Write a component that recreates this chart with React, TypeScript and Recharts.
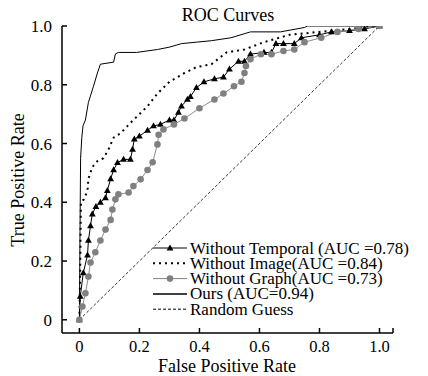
import React from 'react';
import { LineChart, Line, XAxis, YAxis, Legend } from 'recharts';

// ROC points (false positive rate / true positive rate)
const temporalFpr = [0, 0.003, 0.013, 0.027, 0.03, 0.037, 0.043, 0.055, 0.07, 0.087, 0.093, 0.104, 0.114, 0.127, 0.147, 0.17, 0.177, 0.183, 0.2, 0.227, 0.247, 0.27, 0.3, 0.315, 0.33, 0.34, 0.36, 0.37, 0.39, 0.415, 0.45, 0.48, 0.5, 0.53, 0.55, 0.57, 0.615, 0.64, 0.655, 0.68, 0.716, 0.74, 0.8, 0.84, 0.9, 0.95, 1];
const temporalTpr = [0, 0.08, 0.16, 0.22, 0.27, 0.32, 0.36, 0.385, 0.4, 0.415, 0.44, 0.48, 0.51, 0.535, 0.546, 0.546, 0.58, 0.615, 0.625, 0.645, 0.66, 0.665, 0.68, 0.68, 0.706, 0.727, 0.75, 0.76, 0.79, 0.81, 0.82, 0.826, 0.853, 0.88, 0.88, 0.904, 0.91, 0.91, 0.94, 0.94, 0.94, 0.96, 0.97, 0.98, 0.984, 0.99, 1];

const imageFpr = [0, 0.003, 0.005, 0.015, 0.027, 0.03, 0.043, 0.06, 0.08, 0.097, 0.114, 0.137, 0.17, 0.227, 0.26, 0.3, 0.35, 0.39, 0.44, 0.49, 0.55, 0.615, 0.7, 0.8, 0.9, 1];
const imageTpr = [0, 0.2, 0.4, 0.41, 0.44, 0.48, 0.52, 0.54, 0.55, 0.58, 0.62, 0.635, 0.67, 0.727, 0.77, 0.81, 0.84, 0.86, 0.87, 0.91, 0.92, 0.945, 0.97, 0.98, 0.99, 1];

const graphFpr = [0, 0.01, 0.02, 0.03, 0.037, 0.053, 0.07, 0.087, 0.104, 0.11, 0.12, 0.13, 0.164, 0.18, 0.204, 0.227, 0.244, 0.26, 0.264, 0.28, 0.315, 0.35, 0.4, 0.45, 0.48, 0.515, 0.54, 0.55, 0.555, 0.57, 0.605, 0.64, 0.68, 0.716, 0.75, 0.806, 0.86, 0.93, 1];
const graphTpr = [0, 0.045, 0.09, 0.147, 0.195, 0.23, 0.27, 0.307, 0.34, 0.375, 0.41, 0.427, 0.433, 0.455, 0.478, 0.51, 0.536, 0.597, 0.63, 0.648, 0.665, 0.685, 0.72, 0.75, 0.77, 0.795, 0.81, 0.84, 0.864, 0.887, 0.904, 0.904, 0.915, 0.92, 0.945, 0.96, 0.98, 0.99, 1];

const oursFpr = [0, 0.002, 0.004, 0.008, 0.012, 0.02, 0.03, 0.047, 0.06, 0.07, 0.114, 0.12, 0.13, 0.19, 0.26, 0.3, 0.34, 0.39, 0.44, 0.505, 0.57, 0.67, 0.75, 0.76, 1];
const oursTpr = [0, 0.3, 0.55, 0.62, 0.66, 0.68, 0.74, 0.795, 0.84, 0.87, 0.877, 0.905, 0.91, 0.91, 0.92, 0.928, 0.94, 0.945, 0.95, 0.96, 0.98, 0.98, 0.995, 1, 1];

const randomFpr = [0, 1];
const randomTpr = [0, 1];

const legendLabels = [
  'Without Temporal (AUC =0.78)',
  'Without Image(AUC =0.84)',
  'Without Graph(AUC =0.73)',
  'Ours (AUC=0.94)',
  'Random Guess',
];

const xTicks = [0, 0.2, 0.4, 0.6, 0.8, 1.0, 1.045];
const yTicks = [0, 0.2, 0.4, 0.6, 0.8, 1.0];

const toPoints = (xs: number[], ys: number[]) => xs.map((x, i) => ({ x, y: ys[i] }));

const FONT = '"Liberation Serif", "Times New Roman", serif';
const GRAY = '#808080';

const Triangle = (props: any) => {
  const { cx, cy } = props;
  if (cx == null || cy == null) return <g />;
  return <path d={`M${cx},${cy - 3.6} L${cx + 3.4},${cy + 2.4} L${cx - 3.4},${cy + 2.4} Z`} fill="#000" />;
};

const Circle = (props: any) => {
  const { cx, cy } = props;
  if (cx == null || cy == null) return <g />;
  return <circle cx={cx} cy={cy} r={3.3} fill={GRAY} />;
};

const XTick = (props: any) => {
  const { x, y, payload } = props;
  const v = payload.value as number;
  return (
    <g>
      <line x1={x} y1={y} x2={x} y2={y - 5} stroke="#000" strokeWidth={1.5} />
      {v <= 1.001 && (
        <text x={x} y={y + 18.5} textAnchor="middle" fontFamily={FONT} fontSize={16.5} fill="#000">
          {v === 0 ? '0' : v.toFixed(1)}
        </text>
      )}
    </g>
  );
};

const YTick = (props: any) => {
  const { x, y, payload } = props;
  const v = payload.value as number;
  return (
    <g>
      <line x1={x} y1={y} x2={x + 5} y2={y} stroke="#000" strokeWidth={1.5} />
      <text x={x - 10} y={y + 6} textAnchor="end" fontFamily={FONT} fontSize={17} fill="#000">
        {v === 0 ? '0' : v.toFixed(1)}
      </text>
    </g>
  );
};

const LegendBox = () => {
  const rowY = (i: number) => 8 + i * 15.3;
  return (
    <svg width={275} height={85}>
      {/* Without Temporal */}
      <line x1={3} y1={rowY(0)} x2={37} y2={rowY(0)} stroke="#000" strokeWidth={1} />
      <Triangle cx={20} cy={rowY(0)} />
      {/* Without Image */}
      <line x1={3} y1={rowY(1)} x2={37} y2={rowY(1)} stroke="#000" strokeWidth={2} strokeDasharray="2 4" />
      {/* Without Graph */}
      <line x1={3} y1={rowY(2)} x2={37} y2={rowY(2)} stroke={GRAY} strokeWidth={1} />
      <Circle cx={20} cy={rowY(2)} />
      {/* Ours */}
      <line x1={3} y1={rowY(3)} x2={37} y2={rowY(3)} stroke="#000" strokeWidth={1.5} />
      {/* Random */}
      <line x1={3} y1={rowY(4)} x2={37} y2={rowY(4)} stroke="#000" strokeWidth={1} strokeDasharray="3 2" />
      {legendLabels.map((t, i) => (
        <text key={t} x={40} y={rowY(i) + 5.5} fontFamily={FONT} fontSize={17} fill="#000">
          {t}
        </text>
      ))}
    </svg>
  );
};

export default function App() {
  return (
    <div style={{ position: 'absolute', left: 0, top: 0, background: '#fff' }}>
      <LineChart width={428} height={376} margin={{ top: 26, right: 35, bottom: 0, left: 0 }}>
        <XAxis
          type="number"
          dataKey="x"
          domain={[-0.058, 1.045]}
          allowDataOverflow
          ticks={xTicks}
          interval={0}
          height={43}
          tickSize={0}
          tickMargin={0}
          tick={<XTick />}
          axisLine={{ stroke: '#000', strokeWidth: 1.5 }}
          label={{
            content: () => (
              <text x={227} y={371.5} textAnchor="middle" fontFamily={FONT} fontSize={18} fill="#000">
                False Positive Rate
              </text>
            ),
          }}
        />
        <YAxis
          type="number"
          dataKey="y"
          domain={[-0.045, 1.0]}
          allowDataOverflow
          ticks={yTicks}
          interval={0}
          width={62}
          tickSize={0}
          tickMargin={0}
          tick={<YTick />}
          axisLine={{ stroke: '#000', strokeWidth: 1.5 }}
          label={{
            content: () => (
              <text
                x={24}
                y={180}
                transform="rotate(-90 24 180)"
                textAnchor="middle"
                fontFamily={FONT}
                fontSize={18}
                fill="#000"
              >
                True Positive Rate
              </text>
            ),
          }}
        />
        <Line
          data={toPoints(temporalFpr, temporalTpr)}
          dataKey="y"
          stroke="#000"
          strokeWidth={1}
          dot={<Triangle />}
          activeDot={false}
          isAnimationActive={false}
        />
        <Line
          data={toPoints(imageFpr, imageTpr)}
          dataKey="y"
          stroke="#000"
          strokeWidth={2}
          strokeDasharray="2 4"
          dot={false}
          activeDot={false}
          isAnimationActive={false}
        />
        <Line
          data={toPoints(graphFpr, graphTpr)}
          dataKey="y"
          stroke="#8c8c8c"
          strokeWidth={1}
          dot={<Circle />}
          activeDot={false}
          isAnimationActive={false}
        />
        <Line
          data={toPoints(oursFpr, oursTpr)}
          dataKey="y"
          stroke="#000"
          strokeWidth={1}
          dot={false}
          activeDot={false}
          isAnimationActive={false}
        />
        <Line
          data={toPoints(randomFpr, randomTpr)}
          dataKey="y"
          stroke="#000"
          strokeWidth={0.8}
          strokeDasharray="3 2"
          dot={false}
          activeDot={false}
          isAnimationActive={false}
        />
        <Legend
          layout="horizontal"
          verticalAlign="middle"
          align="center"
          content={() => <LegendBox />}
          wrapperStyle={{ position: 'absolute', left: 150, top: 240, width: 275, height: 85 }}
        />
        <text x={228} y={21} textAnchor="middle" fontFamily={FONT} fontSize={18} fill="#000">
          ROC Curves
        </text>
      </LineChart>
    </div>
  );
}
